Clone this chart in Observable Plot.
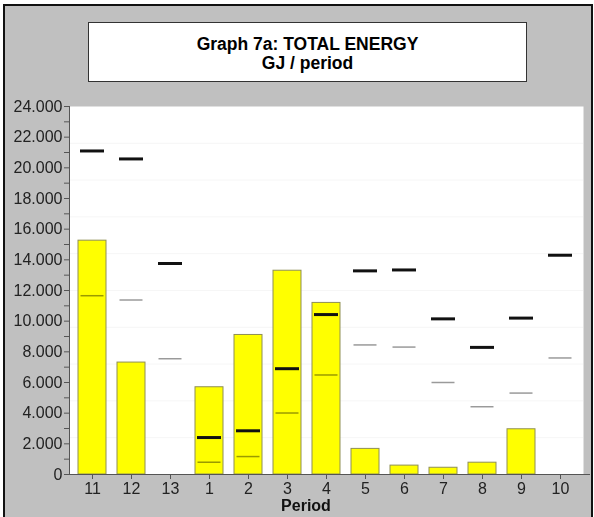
<!DOCTYPE html>
<html><head><meta charset="utf-8">
<script src="https://cdn.jsdelivr.net/npm/d3@7"></script>
<script src="https://cdn.jsdelivr.net/npm/@observablehq/plot@0.6"></script>
<style>
html,body{margin:0;padding:0;background:#fff;}
#wrap{position:relative;width:594px;height:517px;overflow:hidden;font-family:"Liberation Sans",Arial,sans-serif;}
#frame{position:absolute;left:3px;top:4px;width:586px;height:530px;border:2px solid #111;border-bottom:none;background:#c0c0c0;}
#title{position:absolute;left:88px;top:22px;width:439px;height:60px;background:#fff;border:1px solid #333;box-sizing:border-box;text-align:center;font-weight:bold;font-size:17.5px;line-height:19px;padding-top:12px;color:#000;}
#chart{position:absolute;left:0;top:0;}
#xlabel{position:absolute;left:246px;width:120px;top:497px;text-align:center;font-weight:bold;font-size:16px;line-height:18px;color:#111;}
</style></head>
<body>
<div id="wrap">
  <div id="frame"></div>
  <div id="chart"></div>
  <div id="title">Graph 7a: TOTAL ENERGY<br>GJ / period</div>
  <div id="xlabel">Period</div>
</div>
<script>
const periods = ["11","12","13","1","2","3","4","5","6","7","8","9","10"];
const barValues = [15250, 7300, 0, 5690, 9100, 13290, 11190, 1670, 580, 440, 770, 2950, 0];
const blackLine = [21100, 20580, 13760, 2410, 2850, 6900, 10430, 13280, 13340, 10150, 8290, 10200, 14300];
const grayLine = [11660, 11380, 7550, 800, 1170, 4010, 6490, 8450, 8310, 6000, 4420, 5310, 7600];
const yTicks = d3.range(0, 24001, 1000);
const gridValues = d3.range(2400, 24000, 2400);

const table = periods.map((p, i) => ({period: p, bar: barValues[i], black: blackLine[i], gray: grayLine[i]}));
const fmt = d => d3.format(",")(d).replace(/,/g, ".");

const chart = Plot.plot({
  width: 594, height: 517,
  marginLeft: 69, marginRight: 11, marginTop: 106, marginBottom: 43,
  style: {background: "transparent", fontFamily: "Liberation Sans, Arial, sans-serif", color: "#222"},
  x: {domain: periods, paddingInner: 0.28, paddingOuter: 0.14, label: null},
  y: {domain: [0, 24000], label: null},
  marks: [
    Plot.frame({fill: "white", stroke: null}),
    Plot.ruleY(gridValues, {stroke: "#f6f6f6"}),
    Plot.barY(table.filter(d => d.bar > 0), {x: "period", y: "bar", fill: "#ffff00", stroke: "#8f8f55", strokeWidth: 1}),
    Plot.tickY(table, {x: "period", y: "gray", stroke: "#9a9a9a", strokeWidth: 1.5, inset: 2.5, mixBlendMode: "multiply"}),
    Plot.tickY(table, {x: "period", y: "black", stroke: "#111", strokeWidth: 3, inset: 2}),
    Plot.axisY({ticks: yTicks, tickFormat: d => d % 2000 ? "" : fmt(d), tickSize: 5, tickPadding: 2, fontSize: 16, stroke: "#555"}),
    Plot.axisX({tickSize: 5, tickPadding: 3, fontSize: 16, label: null, stroke: "#555"}),
    Plot.frame({anchor: "left", stroke: "#555"}),
    Plot.ruleY([0], {stroke: "#555", insetRight: -7})
  ]
});
document.getElementById("chart").appendChild(chart);
</script>
</body></html>
